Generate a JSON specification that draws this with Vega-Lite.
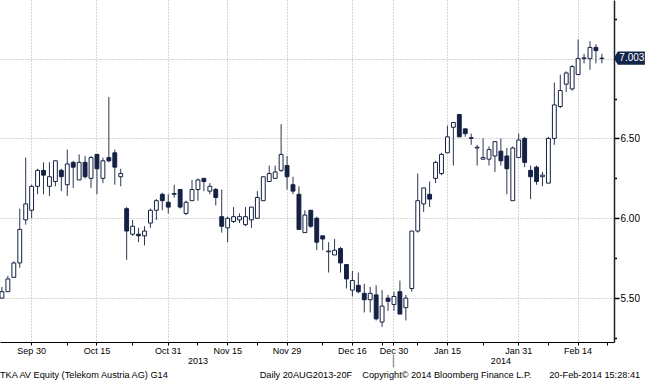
{
  "$schema": "https://vega.github.io/schema/vega-lite/v6.json",
  "width": 614,
  "height": 342,
  "autosize": {"type": "none"},
  "padding": {"left": 0, "top": 0, "right": 31, "bottom": 38},
  "background": "#ffffff",
  "config": {"view": {"stroke": null}, "font": "Liberation Sans"},
  "title": {
    "text": "TKA AV Equity (Telekom Austria AG) G14\u00a0\u00a0\u00a0\u00a0\u00a0\u00a0\u00a0\u00a0\u00a0\u00a0\u00a0\u00a0\u00a0\u00a0\u00a0\u00a0\u00a0\u00a0\u00a0\u00a0\u00a0\u00a0\u00a0\u00a0\u00a0\u00a0\u00a0\u00a0\u00a0\u00a0\u00a0\u00a0\u00a0\u00a0\u00a0\u00a0Daily 20AUG2013-20F\u00a0\u00a0\u00a0\u00a0Copyright\u00a9 2014 Bloomberg Finance L.P.\u00a0\u00a0\u00a0\u00a0\u00a0\u00a0\u00a020-Feb-2014 15:28:41",
    "orient": "bottom", "anchor": "start", "frame": "group",
    "fontSize": 9.2, "fontWeight": "normal", "font": "Liberation Sans", "color": "#000000", "offset": 3
  },
  "datasets": {
    "ohlc": [
      {"date": "2013-09-23", "open": 5.50, "high": 5.57, "low": 5.50, "close": 5.54},
      {"date": "2013-09-24", "open": 5.54, "high": 5.64, "low": 5.54, "close": 5.62},
      {"date": "2013-09-25", "open": 5.63, "high": 5.73, "low": 5.63, "close": 5.72},
      {"date": "2013-09-26", "open": 5.72, "high": 6.06, "low": 5.69, "close": 5.93},
      {"date": "2013-09-27", "open": 5.99, "high": 6.38, "low": 5.96, "close": 6.09},
      {"date": "2013-09-30", "open": 6.05, "high": 6.21, "low": 6.00, "close": 6.20},
      {"date": "2013-10-01", "open": 6.20, "high": 6.31, "low": 6.15, "close": 6.30},
      {"date": "2013-10-02", "open": 6.30, "high": 6.35, "low": 6.15, "close": 6.27},
      {"date": "2013-10-03", "open": 6.20, "high": 6.35, "low": 6.14, "close": 6.26},
      {"date": "2013-10-04", "open": 6.23, "high": 6.36, "low": 6.20, "close": 6.36},
      {"date": "2013-10-07", "open": 6.30, "high": 6.31, "low": 6.17, "close": 6.26},
      {"date": "2013-10-08", "open": 6.21, "high": 6.43, "low": 6.14, "close": 6.34},
      {"date": "2013-10-09", "open": 6.35, "high": 6.36, "low": 6.19, "close": 6.32},
      {"date": "2013-10-10", "open": 6.24, "high": 6.40, "low": 6.24, "close": 6.35},
      {"date": "2013-10-11", "open": 6.35, "high": 6.39, "low": 6.25, "close": 6.26},
      {"date": "2013-10-14", "open": 6.25, "high": 6.39, "low": 6.19, "close": 6.38},
      {"date": "2013-10-15", "open": 6.40, "high": 6.40, "low": 6.15, "close": 6.31},
      {"date": "2013-10-16", "open": 6.25, "high": 6.38, "low": 6.22, "close": 6.36},
      {"date": "2013-10-17", "open": 6.38, "high": 6.76, "low": 6.35, "close": 6.36},
      {"date": "2013-10-18", "open": 6.41, "high": 6.43, "low": 6.21, "close": 6.32},
      {"date": "2013-10-21", "open": 6.26, "high": 6.31, "low": 6.20, "close": 6.28},
      {"date": "2013-10-22", "open": 6.06, "high": 6.07, "low": 5.74, "close": 5.92},
      {"date": "2013-10-23", "open": 5.90, "high": 5.99, "low": 5.89, "close": 5.95},
      {"date": "2013-10-24", "open": 5.90, "high": 5.94, "low": 5.85, "close": 5.89},
      {"date": "2013-10-25", "open": 5.89, "high": 5.95, "low": 5.83, "close": 5.92},
      {"date": "2013-10-28", "open": 5.97, "high": 6.06, "low": 5.94, "close": 6.05},
      {"date": "2013-10-29", "open": 6.05, "high": 6.12, "low": 5.99, "close": 6.11},
      {"date": "2013-10-30", "open": 6.15, "high": 6.16, "low": 6.05, "close": 6.11},
      {"date": "2013-10-31", "open": 6.10, "high": 6.15, "low": 6.03, "close": 6.07},
      {"date": "2013-11-04", "open": 6.15, "high": 6.21, "low": 6.13, "close": 6.155},
      {"date": "2013-11-05", "open": 6.18, "high": 6.18, "low": 6.06, "close": 6.07},
      {"date": "2013-11-06", "open": 6.03, "high": 6.11, "low": 6.02, "close": 6.10},
      {"date": "2013-11-07", "open": 6.11, "high": 6.24, "low": 6.11, "close": 6.18},
      {"date": "2013-11-08", "open": 6.18, "high": 6.25, "low": 6.11, "close": 6.24},
      {"date": "2013-11-11", "open": 6.25, "high": 6.25, "low": 6.17, "close": 6.23},
      {"date": "2013-11-12", "open": 6.17, "high": 6.22, "low": 6.15, "close": 6.20},
      {"date": "2013-11-13", "open": 6.18, "high": 6.19, "low": 6.08, "close": 6.13},
      {"date": "2013-11-14", "open": 6.01, "high": 6.18, "low": 5.91, "close": 5.95},
      {"date": "2013-11-15", "open": 5.94, "high": 6.01, "low": 5.85, "close": 6.00},
      {"date": "2013-11-18", "open": 5.98, "high": 6.07, "low": 5.97, "close": 6.01},
      {"date": "2013-11-19", "open": 5.99, "high": 6.03, "low": 5.97, "close": 6.01},
      {"date": "2013-11-20", "open": 5.96, "high": 6.07, "low": 5.95, "close": 6.01},
      {"date": "2013-11-21", "open": 5.99, "high": 6.07, "low": 5.94, "close": 6.07},
      {"date": "2013-11-22", "open": 6.00, "high": 6.17, "low": 6.00, "close": 6.13},
      {"date": "2013-11-25", "open": 6.11, "high": 6.26, "low": 6.11, "close": 6.26},
      {"date": "2013-11-26", "open": 6.23, "high": 6.33, "low": 6.23, "close": 6.28},
      {"date": "2013-11-27", "open": 6.25, "high": 6.33, "low": 6.25, "close": 6.29},
      {"date": "2013-11-28", "open": 6.30, "high": 6.59, "low": 6.29, "close": 6.40},
      {"date": "2013-11-29", "open": 6.33, "high": 6.39, "low": 6.18, "close": 6.26},
      {"date": "2013-12-02", "open": 6.21, "high": 6.26, "low": 6.15, "close": 6.17},
      {"date": "2013-12-03", "open": 6.15, "high": 6.20, "low": 5.93, "close": 5.93},
      {"date": "2013-12-04", "open": 5.91, "high": 6.05, "low": 5.91, "close": 6.02},
      {"date": "2013-12-05", "open": 6.05, "high": 6.05, "low": 5.94, "close": 5.95},
      {"date": "2013-12-06", "open": 6.00, "high": 6.01, "low": 5.80, "close": 5.85},
      {"date": "2013-12-09", "open": 5.89, "high": 5.89, "low": 5.80, "close": 5.87},
      {"date": "2013-12-10", "open": 5.79, "high": 5.85, "low": 5.66, "close": 5.795},
      {"date": "2013-12-11", "open": 5.77, "high": 5.87, "low": 5.77, "close": 5.80},
      {"date": "2013-12-12", "open": 5.81, "high": 5.82, "low": 5.66, "close": 5.72},
      {"date": "2013-12-13", "open": 5.71, "high": 5.71, "low": 5.56, "close": 5.62},
      {"date": "2013-12-16", "open": 5.55, "high": 5.67, "low": 5.51, "close": 5.61},
      {"date": "2013-12-17", "open": 5.58, "high": 5.66, "low": 5.53, "close": 5.54},
      {"date": "2013-12-18", "open": 5.53, "high": 5.59, "low": 5.41, "close": 5.49},
      {"date": "2013-12-19", "open": 5.49, "high": 5.57, "low": 5.41, "close": 5.53},
      {"date": "2013-12-20", "open": 5.52, "high": 5.58, "low": 5.36, "close": 5.37},
      {"date": "2013-12-23", "open": 5.35, "high": 5.55, "low": 5.32, "close": 5.45},
      {"date": "2013-12-27", "open": 5.50, "high": 5.52, "low": 5.42, "close": 5.48},
      {"date": "2013-12-30", "open": 5.46, "high": 5.54, "low": 5.42, "close": 5.51},
      {"date": "2014-01-02", "open": 5.54, "high": 5.61, "low": 5.40, "close": 5.40},
      {"date": "2014-01-03", "open": 5.44, "high": 5.52, "low": 5.36, "close": 5.50},
      {"date": "2014-01-07", "open": 5.56, "high": 5.92, "low": 5.54, "close": 5.92},
      {"date": "2014-01-08", "open": 5.92, "high": 6.28, "low": 5.91, "close": 6.11},
      {"date": "2014-01-09", "open": 6.09, "high": 6.19, "low": 6.04, "close": 6.19},
      {"date": "2014-01-10", "open": 6.15, "high": 6.23, "low": 6.07, "close": 6.12},
      {"date": "2014-01-13", "open": 6.25, "high": 6.36, "low": 6.22, "close": 6.35},
      {"date": "2014-01-14", "open": 6.28, "high": 6.41, "low": 6.27, "close": 6.40},
      {"date": "2014-01-15", "open": 6.41, "high": 6.58, "low": 6.41, "close": 6.51},
      {"date": "2014-01-16", "open": 6.57, "high": 6.60, "low": 6.33, "close": 6.60},
      {"date": "2014-01-17", "open": 6.65, "high": 6.65, "low": 6.51, "close": 6.51},
      {"date": "2014-01-20", "open": 6.56, "high": 6.56, "low": 6.51, "close": 6.53},
      {"date": "2014-01-21", "open": 6.50, "high": 6.53, "low": 6.46, "close": 6.505},
      {"date": "2014-01-22", "open": 6.44, "high": 6.46, "low": 6.33, "close": 6.445},
      {"date": "2014-01-23", "open": 6.37, "high": 6.50, "low": 6.37, "close": 6.38},
      {"date": "2014-01-24", "open": 6.37, "high": 6.45, "low": 6.33, "close": 6.43},
      {"date": "2014-01-27", "open": 6.39, "high": 6.48, "low": 6.29, "close": 6.48},
      {"date": "2014-01-28", "open": 6.42, "high": 6.50, "low": 6.33, "close": 6.36},
      {"date": "2014-01-29", "open": 6.39, "high": 6.44, "low": 6.15, "close": 6.31},
      {"date": "2014-01-30", "open": 6.11, "high": 6.45, "low": 6.11, "close": 6.44},
      {"date": "2014-01-31", "open": 6.38, "high": 6.53, "low": 6.38, "close": 6.49},
      {"date": "2014-02-03", "open": 6.50, "high": 6.51, "low": 6.32, "close": 6.35},
      {"date": "2014-02-04", "open": 6.30, "high": 6.33, "low": 6.12, "close": 6.26},
      {"date": "2014-02-05", "open": 6.32, "high": 6.33, "low": 6.21, "close": 6.23},
      {"date": "2014-02-06", "open": 6.26, "high": 6.29, "low": 6.20, "close": 6.27},
      {"date": "2014-02-07", "open": 6.22, "high": 6.51, "low": 6.22, "close": 6.50},
      {"date": "2014-02-10", "open": 6.50, "high": 6.85, "low": 6.46, "close": 6.71},
      {"date": "2014-02-11", "open": 6.70, "high": 6.90, "low": 6.69, "close": 6.80},
      {"date": "2014-02-12", "open": 6.84, "high": 6.92, "low": 6.79, "close": 6.91},
      {"date": "2014-02-13", "open": 6.81, "high": 6.96, "low": 6.80, "close": 6.95},
      {"date": "2014-02-14", "open": 6.90, "high": 7.12, "low": 6.90, "close": 7.00},
      {"date": "2014-02-17", "open": 7.00, "high": 7.03, "low": 6.97, "close": 7.005},
      {"date": "2014-02-18", "open": 7.00, "high": 7.11, "low": 6.93, "close": 7.07},
      {"date": "2014-02-19", "open": 7.07, "high": 7.09, "low": 6.97, "close": 7.05},
      {"date": "2014-02-20", "open": 7.00, "high": 7.03, "low": 6.97, "close": 7.003}
    ]
  },
  "resolve": {"axis": {"x": "independent", "y": "independent"}},
  "layer": [
    {
      "data": {"name": "ohlc"},
      "mark": {"type": "rule", "color": "#2d3650", "strokeWidth": 1, "clip": true},
      "encoding": {
        "x": {
          "field": "date", "type": "ordinal", "title": null,
          "scale": {
            "type": "band", "paddingInner": 0.35, "paddingOuter": 0.3585, "align": 0,
            "domain": ["2013-09-23","2013-09-24","2013-09-25","2013-09-26","2013-09-27","2013-09-30","2013-10-01","2013-10-02","2013-10-03","2013-10-04","2013-10-07","2013-10-08","2013-10-09","2013-10-10","2013-10-11","2013-10-14","2013-10-15","2013-10-16","2013-10-17","2013-10-18","2013-10-21","2013-10-22","2013-10-23","2013-10-24","2013-10-25","2013-10-28","2013-10-29","2013-10-30","2013-10-31","2013-11-04","2013-11-05","2013-11-06","2013-11-07","2013-11-08","2013-11-11","2013-11-12","2013-11-13","2013-11-14","2013-11-15","2013-11-18","2013-11-19","2013-11-20","2013-11-21","2013-11-22","2013-11-25","2013-11-26","2013-11-27","2013-11-28","2013-11-29","2013-12-02","2013-12-03","2013-12-04","2013-12-05","2013-12-06","2013-12-09","2013-12-10","2013-12-11","2013-12-12","2013-12-13","2013-12-16","2013-12-17","2013-12-18","2013-12-19","2013-12-20","2013-12-23","2013-12-27","2013-12-30","2014-01-02","2014-01-03","2014-01-07","2014-01-08","2014-01-09","2014-01-10","2014-01-13","2014-01-14","2014-01-15","2014-01-16","2014-01-17","2014-01-20","2014-01-21","2014-01-22","2014-01-23","2014-01-24","2014-01-27","2014-01-28","2014-01-29","2014-01-30","2014-01-31","2014-02-03","2014-02-04","2014-02-05","2014-02-06","2014-02-07","2014-02-10","2014-02-11","2014-02-12","2014-02-13","2014-02-14","2014-02-17","2014-02-18","2014-02-19","2014-02-20","2014-02-21"]
          },
          "axis": {
            "orient": "bottom",
            "values": ["2013-09-30","2013-10-08","2013-10-15","2013-10-23","2013-10-31","2013-11-08","2013-11-15","2013-11-22","2013-11-29","2013-12-09","2013-12-16","2013-12-23","2013-12-30","2014-01-08","2014-01-15","2014-01-23","2014-01-31","2014-02-07","2014-02-14","2014-02-21"],
            "labelExpr": "indexof(['2013-09-30','2013-10-15','2013-10-31','2013-11-15','2013-11-29','2013-12-16','2013-12-30','2014-01-15','2014-01-31','2014-02-14'], datum.value) >= 0 ? utcFormat(toDate(datum.value), '%b %d') : ''",
            "bandPosition": 0.5,
            "grid": true,
            "gridColor": "#aaaaaa",
            "gridDash": [1, 2],
            "gridWidth": 1,
            "gridOpacity": {"condition": {"test": "indexof(['2013-09-30','2013-10-15','2013-10-31','2013-11-15','2013-11-29','2013-12-16','2013-12-30','2014-01-15','2014-01-31','2014-02-14'], datum.value) >= 0", "value": 1}, "value": 0},
            "domainColor": "#000000",
            "domainWidth": 1,
            "tickColor": "#000000",
            "tickSize": 3,
            "labelAngle": 0,
            "labelAlign": "center",
            "labelBaseline": "top",
            "labelColor": "#000000",
            "labelFontSize": 9,
            "labelFont": "Liberation Sans",
            "labelPadding": 1,
            "labelOverlap": false,
            "labelBound": false,
            "labelFlush": false
          }
        },
        "y": {
          "field": "low", "type": "quantitative", "title": null,
          "scale": {"domain": [5.225, 7.367], "zero": false, "nice": false},
          "axis": {
            "orient": "right",
            "values": [5.25, 5.5, 5.75, 6.0, 6.25, 6.5, 6.75, 7.0, 7.25],
            "format": ".2f",
            "labelExpr": "(datum.value * 2 == round(datum.value * 2)) && datum.value < 6.9 ? datum.label : ''",
            "grid": true,
            "gridColor": "#aaaaaa",
            "gridDash": [1, 2],
            "gridOpacity": {"condition": {"test": "datum.value * 2 == round(datum.value * 2)", "value": 1}, "value": 0},
            "tickSize": {"condition": {"test": "datum.value * 2 == round(datum.value * 2)", "value": 5}, "value": 2.5},
            "tickColor": "#000000",
            "tickWidth": 1.5,
            "domainColor": "#222222",
            "domainWidth": 1.5,
            "labelColor": "#000000",
            "labelFontSize": 10,
            "labelFont": "Liberation Sans",
            "labelPadding": 1,
            "labelBaseline": "middle",
            "labelAlign": "left"
          }
        },
        "y2": {"field": "high"}
      }
    },
    {
      "data": {"name": "ohlc"},
      "mark": {"type": "bar", "stroke": "#142143", "strokeWidth": 1, "clip": true},
      "encoding": {
        "x": {
          "field": "date", "type": "ordinal", "title": null,
          "axis": {
            "orient": "bottom",
            "offset": 12,
            "values": ["2013-11-08", "2013-12-30", "2014-01-28"],
            "labelExpr": "datum.value == '2013-11-08' ? '2013' : (datum.value == '2014-01-28' ? '2014' : '')",
            "bandPosition": 0.5,
            "domain": false,
            "grid": false,
            "tickSize": 13,
            "tickWidth": 1.5,
            "tickColor": "#9a9a9a",
            "tickOpacity": {"condition": {"test": "datum.value == '2013-12-30'", "value": 1}, "value": 0},
            "labelAngle": 0,
            "labelAlign": "center",
            "labelBaseline": "top",
            "labelPadding": -11,
            "labelFontSize": 9,
            "labelFont": "Liberation Sans",
            "labelColor": "#000000",
            "labelOverlap": false,
            "labelBound": false,
            "labelFlush": false
          }
        },
        "y": {"field": "open", "type": "quantitative", "title": null, "axis": null},
        "y2": {"field": "close"},
        "fill": {"condition": {"test": "datum.close >= datum.open", "value": "#ffffff"}, "value": "#142143"}
      }
    },
    {
      "data": {"values": [{"date": "2014-02-20", "last": 7.003}]},
      "mark": {"type": "point", "shape": "M-1,0L-0.75,-0.42L1,-0.42L1,0.42L-0.75,0.42Z", "size": 961, "filled": true, "color": "#13254a", "opacity": 1, "xOffset": 27.5, "clip": false},
      "encoding": {
        "x": {"field": "date", "type": "ordinal", "axis": null},
        "y": {"field": "last", "type": "quantitative", "axis": null}
      }
    },
    {
      "data": {"values": [{"date": "2014-02-20", "last": 7.003}]},
      "mark": {"type": "text", "color": "#ffffff", "dx": 30, "align": "center", "baseline": "middle", "fontSize": 10, "font": "Liberation Sans", "clip": false},
      "encoding": {
        "x": {"field": "date", "type": "ordinal", "axis": null},
        "y": {"field": "last", "type": "quantitative", "axis": null},
        "text": {"field": "last", "type": "quantitative", "format": ".3f"}
      }
    }
  ]
}
